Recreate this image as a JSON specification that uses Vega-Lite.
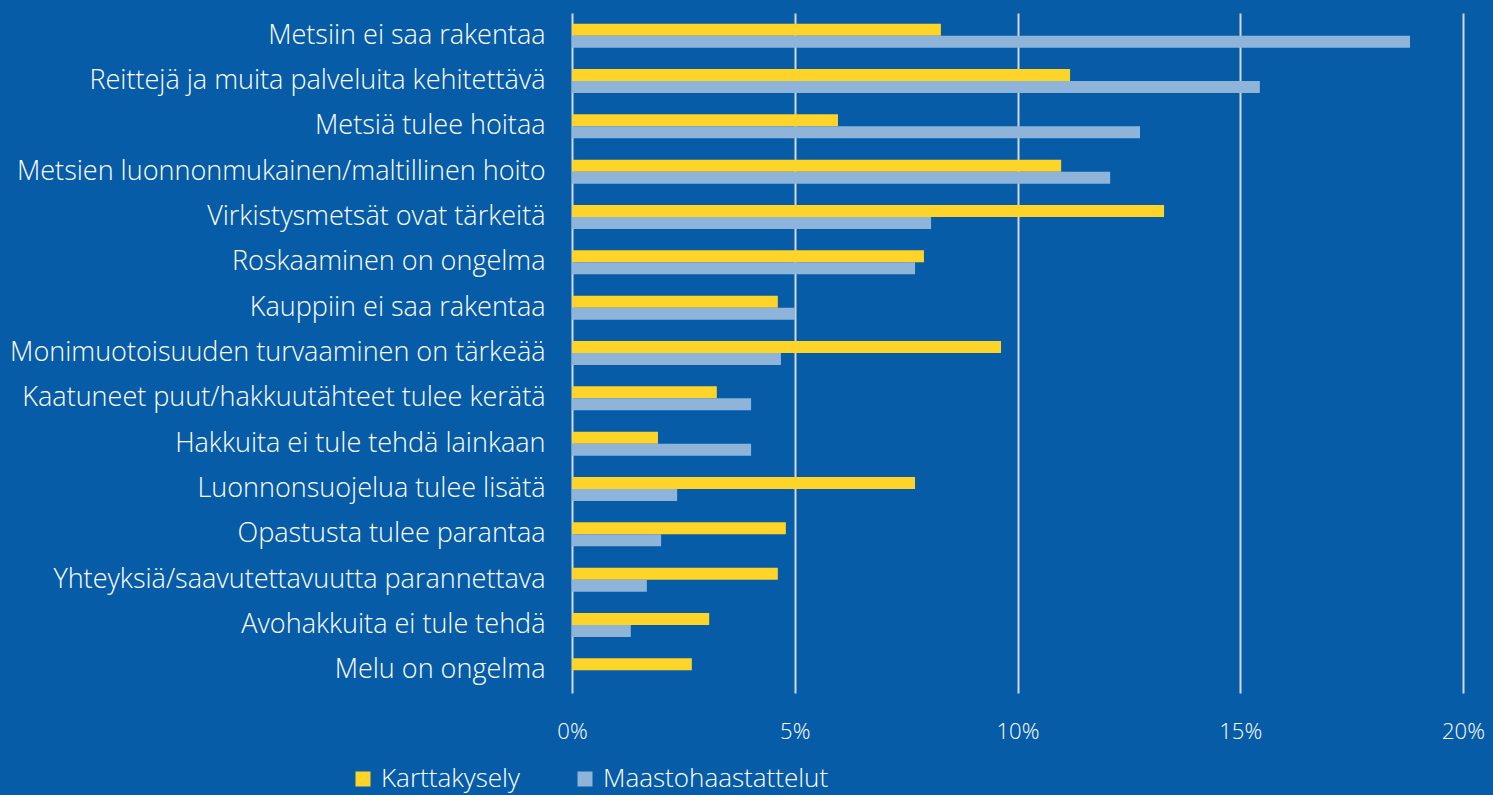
{
  "$schema": "https://vega.github.io/schema/vega-lite/v6.json",
  "width": 891,
  "height": 680,
  "autosize": {"type": "none"},
  "padding": {"left": 572, "top": 13, "right": 30, "bottom": 102},
  "background": "#075ca8",
  "config": {
    "view": {"stroke": null},
    "font": "Open Sans"
  },
  "data": {
    "values": [
      {"k": "Metsiin ei saa rakentaa", "s": "Karttakysely", "v": 8.28},
      {"k": "Metsiin ei saa rakentaa", "s": "Maastohaastattelut", "v": 18.81},
      {"k": "Reittejä ja muita palveluita kehitettävä", "s": "Karttakysely", "v": 11.18},
      {"k": "Reittejä ja muita palveluita kehitettävä", "s": "Maastohaastattelut", "v": 15.44},
      {"k": "Metsiä tulee hoitaa", "s": "Karttakysely", "v": 5.97},
      {"k": "Metsiä tulee hoitaa", "s": "Maastohaastattelut", "v": 12.75},
      {"k": "Metsien luonnonmukainen/maltillinen hoito", "s": "Karttakysely", "v": 10.98},
      {"k": "Metsien luonnonmukainen/maltillinen hoito", "s": "Maastohaastattelut", "v": 12.08},
      {"k": "Virkistysmetsät ovat tärkeitä", "s": "Karttakysely", "v": 13.29},
      {"k": "Virkistysmetsät ovat tärkeitä", "s": "Maastohaastattelut", "v": 8.06},
      {"k": "Roskaaminen on ongelma", "s": "Karttakysely", "v": 7.9},
      {"k": "Roskaaminen on ongelma", "s": "Maastohaastattelut", "v": 7.7},
      {"k": "Kauppiin ei saa rakentaa", "s": "Karttakysely", "v": 4.62},
      {"k": "Kauppiin ei saa rakentaa", "s": "Maastohaastattelut", "v": 5.01},
      {"k": "Monimuotoisuuden turvaaminen on tärkeää", "s": "Karttakysely", "v": 9.63},
      {"k": "Monimuotoisuuden turvaaminen on tärkeää", "s": "Maastohaastattelut", "v": 4.69},
      {"k": "Kaatuneet puut/hakkuutähteet tulee kerätä", "s": "Karttakysely", "v": 3.25},
      {"k": "Kaatuneet puut/hakkuutähteet tulee kerätä", "s": "Maastohaastattelut", "v": 4.02},
      {"k": "Hakkuita ei tule tehdä lainkaan", "s": "Karttakysely", "v": 1.93},
      {"k": "Hakkuita ei tule tehdä lainkaan", "s": "Maastohaastattelut", "v": 4.02},
      {"k": "Luonnonsuojelua tulee lisätä", "s": "Karttakysely", "v": 7.7},
      {"k": "Luonnonsuojelua tulee lisätä", "s": "Maastohaastattelut", "v": 2.36},
      {"k": "Opastusta tulee parantaa", "s": "Karttakysely", "v": 4.8},
      {"k": "Opastusta tulee parantaa", "s": "Maastohaastattelut", "v": 2.0},
      {"k": "Yhteyksiä/saavutettavuutta parannettava", "s": "Karttakysely", "v": 4.62},
      {"k": "Yhteyksiä/saavutettavuutta parannettava", "s": "Maastohaastattelut", "v": 1.68},
      {"k": "Avohakkuita ei tule tehdä", "s": "Karttakysely", "v": 3.08},
      {"k": "Avohakkuita ei tule tehdä", "s": "Maastohaastattelut", "v": 1.32},
      {"k": "Melu on ongelma", "s": "Karttakysely", "v": 2.69},
      {"k": "Melu on ongelma", "s": "Maastohaastattelut", "v": 0}
    ]
  },
  "mark": {"type": "bar"},
  "encoding": {
    "y": {
      "field": "k",
      "type": "nominal",
      "sort": null,
      "scale": {"paddingInner": 0.47, "paddingOuter": 0.235},
      "axis": {
        "title": null,
        "ticks": false,
        "domain": false,
        "labelColor": "#ffffff",
        "labelFontSize": 27,
        "labelFontWeight": 300,
        "labelPadding": 27,
        "labelLimit": 700
      }
    },
    "yOffset": {"field": "s", "type": "nominal", "scale": {"paddingInner": 0, "paddingOuter": 0}},
    "x": {
      "field": "v",
      "type": "quantitative",
      "scale": {"domain": [0, 20], "nice": false},
      "axis": {
        "title": null,
        "values": [0, 5, 10, 15, 20],
        "labelExpr": "datum.value + '%'",
        "labelFlush": false,
        "ticks": false,
        "domain": false,
        "grid": true,
        "gridColor": "#d4d8de",
        "gridWidth": 2,
        "gridOpacity": 1,
        "labelColor": "#ffffff",
        "labelFontSize": 22,
        "labelFontWeight": 300,
        "labelPadding": 28
      }
    },
    "color": {
      "field": "s",
      "type": "nominal",
      "scale": {"domain": ["Karttakysely", "Maastohaastattelut"], "range": ["#ffd428", "#8fb4da"]},
      "legend": {
        "title": null,
        "orient": "none",
        "legendX": -222,
        "legendY": 753,
        "direction": "horizontal",
        "symbolType": "square",
        "symbolSize": 225,
        "symbolStrokeWidth": 0,
        "symbolOpacity": 1,
        "labelColor": "#ffffff",
        "labelFontSize": 26,
        "labelFontWeight": 300,
        "labelLimit": 500,
        "columnPadding": 52,
        "labelOffset": 5
      }
    }
  }
}
